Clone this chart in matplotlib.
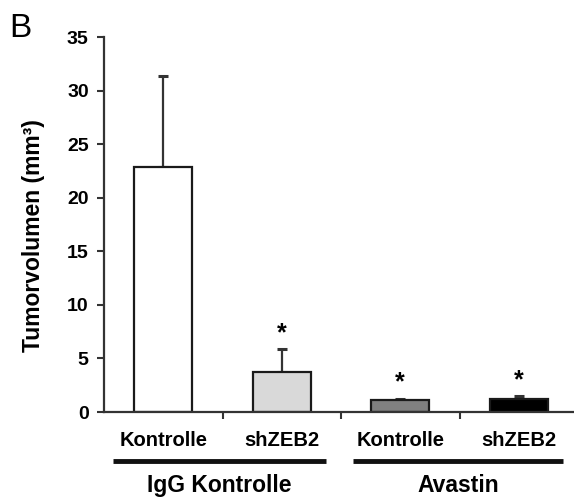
import matplotlib
matplotlib.use("Agg")
import matplotlib.pyplot as plt

plt.rcParams['font.family'] = ['Liberation Sans', 'DejaVu Sans']
plt.rcParams['font.weight'] = 'bold'

categories = ["Kontrolle", "shZEB2", "Kontrolle", "shZEB2"]
groups = ["IgG Kontrolle", "Avastin"]
values = [22.9, 3.75, 1.1, 1.2]
errors = [8.5, 2.1, 0.12, 0.27]
significant = [False, True, True, True]
colors = ["#ffffff", "#d9d9d9", "#808080", "#000000"]
yticks = [0, 5, 10, 15, 20, 25, 30, 35]

fig = plt.figure(figsize=(5.74, 4.99), dpi=100)
ax = fig.add_axes([0.1812, 0.1743, 0.8258, 0.7515])

x = [i + 0.5 for i in range(len(values))]
ax.bar(x, values, width=0.49, color=colors, edgecolor="#1a1a1a", linewidth=1.6, zorder=2)
ax.errorbar(x, values, yerr=[[0] * len(values), errors], fmt="none",
            ecolor="#333333", elinewidth=1.6, capsize=3.5, capthick=2.2, zorder=1)

for xi, v, e, s in zip(x, values, errors, significant):
    if s:
        ax.annotate("*", (xi, v + e), xytext=(0, 3), textcoords="offset points",
                    ha="center", va="bottom", fontsize=18, fontweight="bold")

ax.set_xlim(0, 4)
ax.set_ylim(0, 35)
ax.set_yticks(yticks)
ax.set_yticklabels([str(t) for t in yticks], fontsize=14, fontweight="bold")
ax.set_xticks([1, 2, 3])
ax.set_xticklabels([])
ax.tick_params(axis="y", direction="out", length=5, width=1.5, pad=6, color="#333333")
ax.tick_params(axis="x", direction="out", length=5, width=1.5, color="#333333")
for side in ("top", "right"):
    ax.spines[side].set_visible(False)
for side in ("left", "bottom"):
    ax.spines[side].set_linewidth(1.6)
    ax.spines[side].set_color("#333333")

ax.set_ylabel("Tumorvolumen (mm\u00b3)", fontsize=16.5, fontweight="bold")
ax.yaxis.set_label_coords(-0.124, 0.47)

trans = ax.get_xaxis_transform()
for xi, c in zip(x, categories):
    ax.text(xi, -0.075, c, transform=trans, ha="center", va="center",
            fontsize=14.5, fontweight="bold", clip_on=False)

group_spans = [(0.08, 1.87), (2.1, 3.87)]
for (g0, g1), g in zip(group_spans, groups):
    ax.plot([g0, g1], [-0.13, -0.13], transform=trans, color="#111111",
            linewidth=3.5, clip_on=False, solid_capstyle="butt")
    ax.text((g0 + g1) / 2, -0.195, g, transform=trans, ha="center", va="center",
            fontsize=16.5, fontweight="bold", clip_on=False)

fig.text(0.0157, 0.926, "B", fontsize=24, fontweight="normal", ha="left", va="baseline")

fig.savefig("out.png", dpi=100)
